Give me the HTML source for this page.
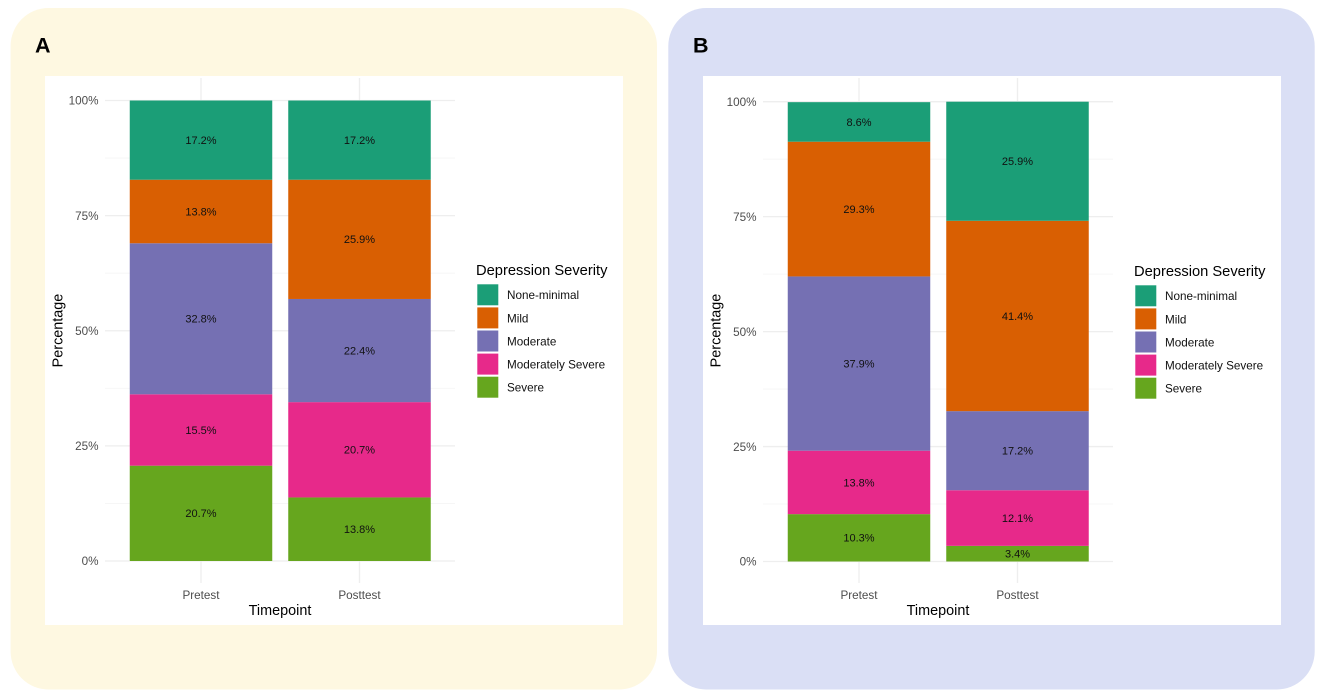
<!DOCTYPE html>
<html lang="en">
<head>
<meta charset="utf-8">
<title>Depression severity by timepoint</title>
<style>
html,body{margin:0;padding:0;background:#fff;width:1325px;height:695px;overflow:hidden}
svg{display:block}
text{font-family:"Liberation Sans",sans-serif}
</style>
</head>
<body>
<svg id="figure" width="1325" height="695" viewBox="0 0 1325 695" xmlns="http://www.w3.org/2000/svg"></svg>
<script>
const categories = ['Pretest', 'Posttest'];
const severityLevels = ['None-minimal', 'Mild', 'Moderate', 'Moderately Severe', 'Severe'];
const severityColors = ['#1B9E77', '#D95F02', '#7570B3', '#E7298A', '#66A61E'];
const yTicks = [0, 25, 50, 75, 100];
const panelAPretest = [17.2, 13.8, 32.8, 15.5, 20.7];
const panelAPosttest = [17.2, 25.9, 22.4, 20.7, 13.8];
const panelBPretest = [8.6, 29.3, 37.9, 13.8, 10.3];
const panelBPosttest = [25.9, 41.4, 17.2, 12.1, 3.4];

const svg = document.getElementById('figure');
const NS = 'http://www.w3.org/2000/svg';

function add(parent, tag, attrs, content) {
  const el = document.createElementNS(NS, tag);
  for (const k in attrs) el.setAttribute(k, attrs[k]);
  if (content !== undefined) el.textContent = content;
  parent.appendChild(el);
  return el;
}

function drawPanel(cfg) {
  const g = add(svg, 'g', {});
  
  

  const bg = add(g, 'rect', {x: cfg.bgX, y: 8, width: 646.4, height: 681.5, rx: 38, fill: cfg.bg});
  
  

  const letter = add(g, 'text', {x: cfg.dx + 35, y: 52.5, 'font-size': 21.5, 'font-weight': 'bold', fill: '#000'}, cfg.letter);
  
  

  const card = add(g, 'rect', {x: cfg.dx + 45, y: 76, width: 578, height: 549, fill: '#fff'});
  
  

  const yScale = v => cfg.y0 + (cfg.y100 - cfg.y0) * v / 100;
  const left = cfg.dx + 105, right = cfg.dx + 455;
  const barWidth = 142.5;
  const xCenter = i => cfg.dx + 201 + i * 158.5;

  // minor horizontal gridlines
  for (let i = 0; i < yTicks.length - 1; i++) {
    const mid = (yTicks[i] + yTicks[i + 1]) / 2;
    const minor = add(g, 'line', {x1: left, x2: right, y1: yScale(mid), y2: yScale(mid), stroke: '#f5f5f5', 'stroke-width': 0.8});
    
    
  }
  // major horizontal gridlines and y tick labels
  yTicks.forEach(t => {
    const line = add(g, 'line', {x1: left, x2: right, y1: yScale(t), y2: yScale(t), stroke: '#eeeeee', 'stroke-width': 1.3});
    
    
    const label = add(g, 'text', {x: cfg.dx + 98.5, y: yScale(t) + 4.2, 'text-anchor': 'end', 'font-size': 11.7, fill: '#4d4d4d'}, t + '%');
    
    
  });
  // vertical gridlines
  categories.forEach((c, i) => {
    const line = add(g, 'line', {x1: xCenter(i), x2: xCenter(i), y1: 78, y2: 583, stroke: '#eeeeee', 'stroke-width': 1.3});
    
    
    const label = add(g, 'text', {x: xCenter(i), y: 599, 'text-anchor': 'middle', 'font-size': 11.7, fill: '#4d4d4d'}, c);
    
    
  });

  // stacked bars: Severe sits at the bottom, None-minimal on top
  cfg.series.forEach((values, i) => {
    let cumulative = 0;
    for (let s = values.length - 1; s >= 0; s--) {
      const start = cumulative;
      cumulative += values[s];
      const top = yScale(cumulative), bottom = yScale(start);
      const bar = add(g, 'rect', {x: xCenter(i) - barWidth / 2, y: top, width: barWidth, height: bottom - top, fill: severityColors[s]});
      
      
    }
  });
  // value labels above all segments
  cfg.series.forEach((values, i) => {
    let cumulative = 0;
    for (let s = values.length - 1; s >= 0; s--) {
      const mid = cumulative + values[s] / 2;
      cumulative += values[s];
      const label = add(g, 'text', {x: xCenter(i), y: yScale(mid) + 3.9, 'text-anchor': 'middle', 'font-size': 11, fill: '#111'}, values[s].toFixed(1) + '%');
      
      
    }
  });

  const xTitle = add(g, 'text', {x: cfg.dx + 280, y: 615, 'text-anchor': 'middle', 'font-size': 14.4, fill: '#000'}, 'Timepoint');
  
  

  const yMid = 330.5;
  const yTitle = add(g, 'text', {x: cfg.dx + 62.5, y: yMid, 'text-anchor': 'middle', 'font-size': 14.4, fill: '#000', transform: 'rotate(-90 ' + (cfg.dx + 62.5) + ' ' + yMid + ')'}, 'Percentage');
  
  

  // legend
  const legend = add(g, 'g', {});
  
  
  const legendTitle = add(legend, 'text', {x: cfg.dx + 476, y: 275 + cfg.legendShift, 'font-size': 14.7, fill: '#000'}, 'Depression Severity');
  
  
  severityLevels.forEach((name, i) => {
    const top = 284.3 + cfg.legendShift + i * 23.1;
    const swatch = add(legend, 'rect', {x: cfg.dx + 477.3, y: top, width: 21, height: 21, fill: severityColors[i]});
    
    
    const label = add(legend, 'text', {x: cfg.dx + 507, y: top + 14.9, 'font-size': 11.7, fill: '#111'}, name);
    
    
  });
}

drawPanel({letter: 'A', dx: 0, bgX: 10.6, bg: '#FEF8E1', y0: 561, y100: 100.5, legendShift: 0, series: [panelAPretest, panelAPosttest]});
drawPanel({letter: 'B', dx: 658, bgX: 668.3, bg: '#DADFF5', y0: 561.5, y100: 101.7, legendShift: 1, series: [panelBPretest, panelBPosttest]});
</script>
</body>
</html>
